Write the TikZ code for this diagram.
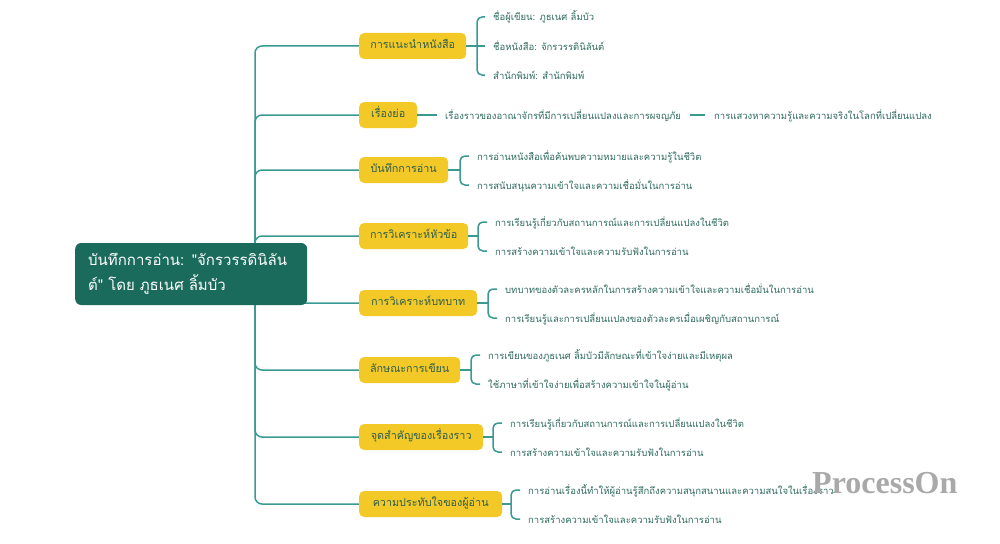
\documentclass[tikz,border=0pt]{standalone}
\usepackage{fontspec}
\newfontfamily\thaifont[Script=Thai]{Loma}
\newfontfamily\wmfont{Liberation Serif}
\usetikzlibrary{backgrounds,calc}
\definecolor{linec}{HTML}{3A9A92}
\definecolor{rootc}{HTML}{1B6B5D}
\definecolor{yel}{HTML}{F3C927}
\definecolor{btext}{HTML}{2E5E4E}
\definecolor{ltext}{HTML}{2F6B5E}
\definecolor{wm}{HTML}{A9A9A9}
\begin{document}
\begin{tikzpicture}[x=1pt,y=-1pt,
  rootbox/.style={fill=rootc, rounded corners=6pt, text=white, font=\thaifont\fontsize{15}{25}\selectfont, anchor=west, inner xsep=13pt, text width=206pt, align=left, minimum height=62pt},
  branch/.style={fill=yel, rounded corners=5pt, text=btext, font=\thaifont\fontsize{10.8}{13}\selectfont, minimum height=26pt, inner xsep=0pt, text height=8pt, text depth=3pt, anchor=west},
  leaf/.style={text=ltext, font=\thaifont\fontsize{9.5}{11}\selectfont, inner sep=0pt, text height=10pt, text depth=2pt, anchor=west},
  conn/.style={draw=linec, line width=1.5pt, rounded corners=7pt},
  brk/.style={draw=linec, line width=1.5pt, rounded corners=5pt},
]
\useasboundingbox (0,0) rectangle (1000,543);

% root
\node[rootbox] (root) at (75,274) {บันทึกการอ่าน: "จักรวรรดินิลัน\\ต์" โดย ภูธเนศ ลิ้มบัว};

% branches
\node[branch, minimum width=107pt] (b1) at (359,46)  {การแนะนำหนังสือ};
\node[branch, minimum width=58pt]  (b2) at (359,115) {เรื่องย่อ};
\node[branch, minimum width=89pt]  (b3) at (359,170) {บันทึกการอ่าน};
\node[branch, minimum width=109pt] (b4) at (359,236) {การวิเคราะห์หัวข้อ};
\node[branch, minimum width=118pt] (b5) at (359,303) {การวิเคราะห์บทบาท};
\node[branch, minimum width=101pt] (b6) at (359,370) {ลักษณะการเขียน};
\node[branch, minimum width=124pt] (b7) at (359,437) {จุดสำคัญของเรื่องราว};
\node[branch, minimum width=143pt] (b8) at (359,504) {ความประทับใจของผู้อ่าน};

% leaves
\node[leaf] (l1a) at (493,17) {ชื่อผู้เขียน: ภูธเนศ ลิ้มบัว};
\node[leaf] (l1b) at (493,46) {ชื่อหนังสือ: จักรวรรดินิลันต์};
\node[leaf] (l1c) at (493,75) {สำนักพิมพ์: สำนักพิมพ์};

\node[leaf] (l2a) at (445,115) {เรื่องราวของอาณาจักรที่มีการเปลี่ยนแปลงและการผจญภัย};
\node[leaf] (l2b) at (714,115) {การแสวงหาความรู้และความจริงในโลกที่เปลี่ยนแปลง};

\node[leaf] (l3a) at (477,156) {การอ่านหนังสือเพื่อค้นพบความหมายและความรู้ในชีวิต};
\node[leaf] (l3b) at (477,185) {การสนับสนุนความเข้าใจและความเชื่อมั่นในการอ่าน};

\node[leaf] (l4a) at (495,222) {การเรียนรู้เกี่ยวกับสถานการณ์และการเปลี่ยนแปลงในชีวิต};
\node[leaf] (l4b) at (495,251) {การสร้างความเข้าใจและความรับฟังในการอ่าน};

\node[leaf] (l5a) at (505,289) {บทบาทของตัวละครหลักในการสร้างความเข้าใจและความเชื่อมั่นในการอ่าน};
\node[leaf] (l5b) at (505,318) {การเรียนรู้และการเปลี่ยนแปลงของตัวละครเมื่อเผชิญกับสถานการณ์};

\node[leaf] (l6a) at (488,355) {การเขียนของภูธเนศ ลิ้มบัวมีลักษณะที่เข้าใจง่ายและมีเหตุผล};
\node[leaf] (l6b) at (488,384) {ใช้ภาษาที่เข้าใจง่ายเพื่อสร้างความเข้าใจในผู้อ่าน};

\node[leaf] (l7a) at (510,423) {การเรียนรู้เกี่ยวกับสถานการณ์และการเปลี่ยนแปลงในชีวิต};
\node[leaf] (l7b) at (510,452) {การสร้างความเข้าใจและความรับฟังในการอ่าน};

\node[leaf] (l8a) at (528,490) {การอ่านเรื่องนี้ทำให้ผู้อ่านรู้สึกถึงความสนุกสนานและความสนใจในเรื่องราว};
\node[leaf] (l8b) at (528,519) {การสร้างความเข้าใจและความรับฟังในการอ่าน};

\begin{pgfonlayer}{background}
  \fill[white] (0,0) rectangle (1000,543);
  \coordinate (t) at (255,274);
  \foreach \b in {b1,b2,b3,b4,b5,b6,b7,b8} {
    \draw[conn] (t) |- (\b.west);
  }
\end{pgfonlayer}

% b1 bracket
\draw[brk] (b1.east) -- ([xshift=-8pt]l1b.west);
\draw[brk] ([xshift=-8pt]l1a.west) -- ([xshift=-16pt]l1a.west) -- ([xshift=-16pt]l1c.west) -- ([xshift=-8pt]l1c.west);
% b2 chain
\draw[brk] (b2.east) -- ([xshift=-8pt]l2a.west);
\draw[brk] ([xshift=9pt]l2a.east) -- ([xshift=-9pt]l2b.west);
% two-leaf brackets
\foreach \b/\u/\d in {b3/l3a/l3b, b4/l4a/l4b, b5/l5a/l5b, b6/l6a/l6b, b7/l7a/l7b, b8/l8a/l8b} {
  \draw[brk] (\b.east) -- ([xshift=-17pt]\u.west |- \b.east);
  \draw[brk] ([xshift=-8pt]\u.west) -- ([xshift=-17pt]\u.west) -- ([xshift=-17pt]\d.west) -- ([xshift=-8pt]\d.west);
}

% watermark
\node[font=\wmfont\bfseries\fontsize{32}{32}\selectfont, text=wm, anchor=base west, inner sep=0pt] (wmk) at (812,493) {ProcessOn};
\end{tikzpicture}
\end{document}
